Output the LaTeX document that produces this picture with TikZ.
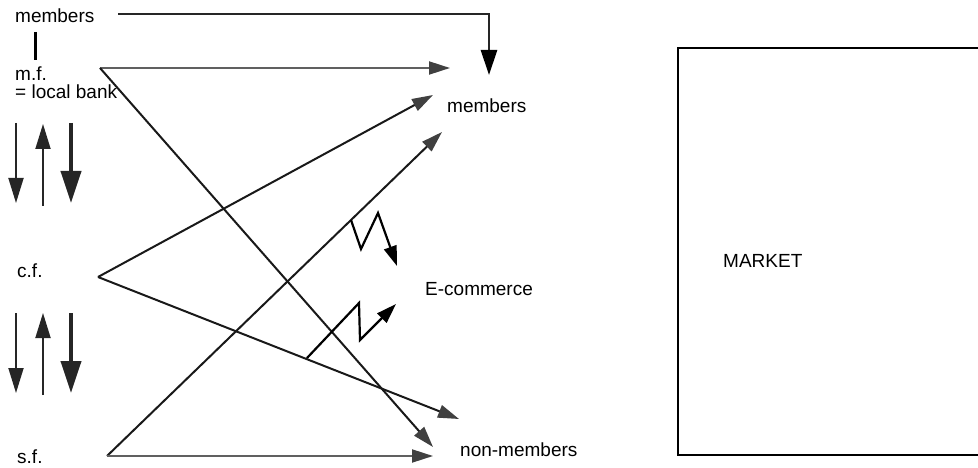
\documentclass[tikz,border=0pt]{standalone}
\usepackage{fontspec}
\setmainfont{Liberation Sans}
\usetikzlibrary{arrows.meta}
\begin{document}
\begin{tikzpicture}[x=1pt,y=-1pt,
  lbl/.style={anchor=base west, inner sep=0pt, font=\fontsize{19}{22}\selectfont},
  conn/.style={line width=2pt, black!90},
  gtip/.style={-{Triangle[length=21pt,width=13pt,fill=black!75,color=black!75]}},
  thinarr/.style={line width=1.8pt, black!85, -{Triangle[length=25pt,width=15pt]}},
  thickarr/.style={line width=4pt, black!85, -{Triangle[length=32pt,width=20pt]}},
  zig/.style={line width=2.2pt, black, -{Triangle[length=20pt,width=13pt]}}]
\useasboundingbox (0,0) rectangle (978,468);
% labels
\node[lbl] (memTop) at (15,23) {members};
\node[lbl] (mf) at (15,81) {m.f.};
\node[lbl] (bank) at (15,99) {= local bank};
\node[lbl] (cf) at (17,277) {c.f.};
\node[lbl] (sf) at (17,463) {s.f.};
\node[lbl] (mem) at (447,113) {members};
\node[lbl] (ecom) at (425,295) {E-commerce};
\node[lbl] (nonmem) at (460,456) {non-members};
\node[lbl] (market) at (723,267) {MARKET};
% coordinates
\coordinate (topS) at (118,14);
\coordinate (topC) at (489,14);
\coordinate (topT) at (489,75);
\coordinate (vA) at (35,32);
\coordinate (vB) at (35,60);
\coordinate (mfV) at (100,68);
\coordinate (cfV) at (98,277);
\coordinate (sfV) at (107,456);
\coordinate (t1) at (450,68);
\coordinate (t2) at (433,95);
\coordinate (t3) at (442,132);
\coordinate (t4) at (459,419);
\coordinate (t5) at (433,447);
\coordinate (t6) at (433,456);
% top members line
\draw[line width=2.8pt, black!85, -{Triangle[length=25pt,width=16pt,color=black]}] (topS) -- (topC) -- (topT);
\draw[line width=3pt] (vA) -- (vB);
% connectors
\draw[conn, gray!75!black, gtip] (mfV) -- (t1);
\draw[conn, gtip] (mfV) -- (t5);
\draw[conn, gtip] (cfV) -- (t2);
\draw[conn, gtip] (cfV) -- (t4);
\draw[conn, gtip] (sfV) -- (t3);
\draw[conn, gray!75!black, gtip] (sfV) -- (t6);
% zigzags
\draw[zig] (351,220) -- (361,249) -- (378,213) -- (397,266);
\draw[zig] (307,358) -- (359,303) -- (360,340) -- (396,304);
% left vertical arrows
\draw[thinarr] (16,123) -- (16,203);
\draw[thinarr] (43,206) -- (43,124);
\draw[thickarr] (71,123) -- (71,203);
\draw[thinarr] (16,313) -- (16,393);
\draw[thinarr] (43,395) -- (43,313);
\draw[thickarr] (71,313) -- (71,393);
% market box
\draw[line width=2.8pt] (978,48) -- (678,48) -- (678,455) -- (978,455);
\end{tikzpicture}
\end{document}
